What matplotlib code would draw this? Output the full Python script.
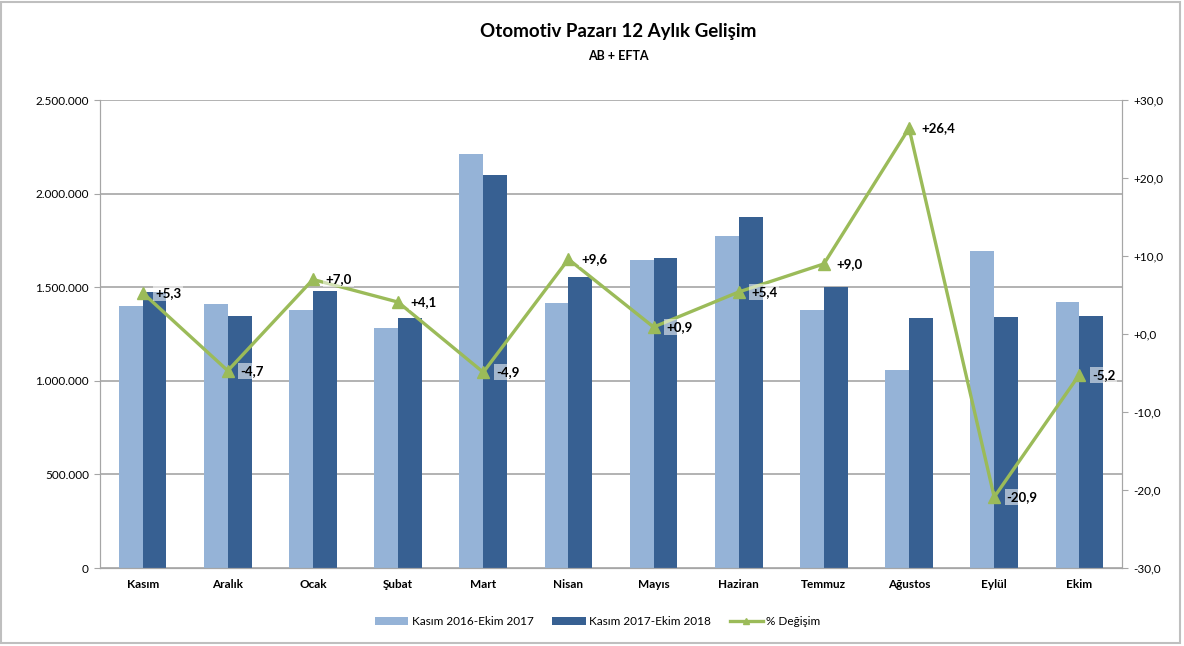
import matplotlib.pyplot as plt
from matplotlib.patches import Rectangle
from matplotlib.ticker import FuncFormatter
import numpy as np

plt.rcParams['font.family'] = ['Lato', 'DejaVu Sans']

aylar = ["Kasım", "Aralık", "Ocak", "Şubat", "Mart", "Nisan", "Mayıs",
         "Haziran", "Temmuz", "Ağustos", "Eylül", "Ekim"]
donem1 = [1400000, 1410000, 1378000, 1282000, 2212000, 1416000, 1645000,
          1774000, 1378000, 1058000, 1695000, 1421000]
donem2 = [1474000, 1346000, 1480000, 1335000, 2099000, 1554000, 1656000,
          1875000, 1501000, 1335000, 1341000, 1345000]
degisim = [5.3, -4.7, 7.0, 4.1, -4.9, 9.6, 0.9, 5.4, 9.0, 26.4, -20.9, -5.2]

fig = plt.figure(figsize=(11.84, 6.46), dpi=100)
ax = fig.add_axes([0.0845, 0.1207, 0.8631, 0.7243])
x = np.arange(len(aylar))
w = 0.28

ax.bar(x - w/2, donem1, w, color="#95B3D7", label="Kasım 2016-Ekim 2017", zorder=2)
ax.bar(x + w/2, donem2, w, color="#376092", label="Kasım 2017-Ekim 2018", zorder=2)
ax.set_ylim(0, 2500000)
ax.set_xlim(-0.5, len(aylar) - 0.5)
ax.set_yticks(np.arange(0, 2500001, 500000))
ax.yaxis.set_major_formatter(FuncFormatter(lambda v, p: f"{int(v):,}".replace(",", ".")))
ax.grid(axis="y", color="#A6A6A6", linewidth=1.2, zorder=0)
ax.set_xticks(x)
ax.set_xticklabels(aylar, fontweight="bold", fontsize=8.5)
ax.tick_params(axis="x", length=0, pad=8)
ax.tick_params(axis="y", labelsize=8.5, length=4, color="#A6A6A6", pad=4)
for s in ["left", "right", "bottom"]:
    ax.spines[s].set_color("#A6A6A6")
ax.spines["top"].set_visible(False)

ax2 = ax.twinx()
ax2.plot(x, degisim, color="#9BBB59", linewidth=2.4, marker="^", markersize=8,
         label="% Değişim", zorder=3)
ax2.set_ylim(-30, 30)
ax2.set_yticks(np.arange(-30, 31, 10))
ax2.yaxis.set_major_formatter(FuncFormatter(
    lambda v, p: (f"+{v:.1f}" if v >= 0 else f"{v:.1f}").replace(".", ",")))
ax2.tick_params(axis="y", labelsize=8.5, length=4, color="#A6A6A6", pad=4)
for s in ["left", "right", "bottom"]:
    ax2.spines[s].set_color("#A6A6A6")
ax2.spines["top"].set_visible(False)

for xi, d in zip(x, degisim):
    txt = (f"+{d:.1f}" if d >= 0 else f"{d:.1f}").replace(".", ",")
    ax2.annotate(txt, (xi, d), xytext=(9, 0), textcoords="offset points",
                 ha="left", va="center", fontsize=9.5, fontweight="bold",
                 bbox=dict(boxstyle="square,pad=0.15", fc="white", ec="none", alpha=0.55),
                 zorder=4)

fig.text(0.522, 0.952, "Otomotiv Pazarı 12 Aylık Gelişim", ha="center", va="center",
         fontsize=13.5, fontweight="bold")
fig.text(0.522, 0.913, "AB + EFTA", ha="center", va="center",
         fontsize=9, fontweight="bold")

h1, l1 = ax.get_legend_handles_labels()
h2, l2 = ax2.get_legend_handles_labels()
fig.legend(h1 + h2, l1 + l2, loc="center", bbox_to_anchor=(0.505, 0.038), ncol=3,
           frameon=False, fontsize=8.5, handlelength=2.8, columnspacing=1.6,
           handletextpad=0.3, markerscale=0.5)

fig.patches.append(Rectangle((0.001, 0.004), 0.996, 0.993, transform=fig.transFigure,
                             fill=False, ec="#BFBFBF", lw=1.5))

fig.savefig("out.png", dpi=100)
